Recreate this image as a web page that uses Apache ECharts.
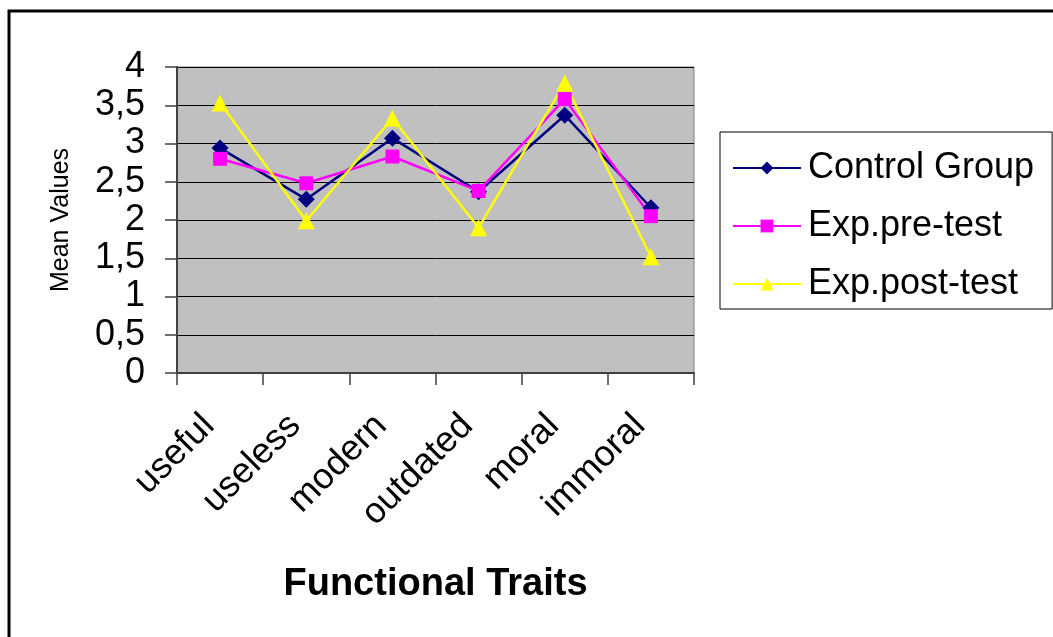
<!DOCTYPE html>
<html>
<head>
<meta charset="utf-8">
<script src="https://cdn.jsdelivr.net/npm/echarts@6/dist/echarts.min.js"></script>
<style>
html,body{margin:0;padding:0;background:#fff;}
#chart{width:1053px;height:637px;}
</style>
</head>
<body>
<div id="chart"></div>
<script>
var categories = ['useful', 'useless', 'modern', 'outdated', 'moral', 'immoral'];
var controlGroup = [2.94, 2.27, 3.07, 2.37, 3.37, 2.16];
var expPreTest = [2.80, 2.48, 2.83, 2.38, 3.58, 2.05];
var expPostTest = [3.53, 1.99, 3.33, 1.90, 3.79, 1.52];
var yTicks = ['0', '0,5', '1', '1,5', '2', '2,5', '3', '3,5', '4'];

var FONT = '"Liberation Sans", Arial, sans-serif';
var chart = echarts.init(document.getElementById('chart'), null, {renderer: 'canvas'});
chart.setOption({
  backgroundColor: '#ffffff',
  animation: false,
  graphic: [{
    type: 'rect',
    shape: {x: 9, y: 11, width: 1100, height: 700},
    style: {fill: 'none', stroke: '#000', lineWidth: 3},
    silent: true
  }],
  grid: {
    left: 177, right: 359, top: 67, bottom: 264,
    show: true, backgroundColor: '#C0C0C0', borderColor: '#808080', borderWidth: 1
  },
  legend: {
    left: 720, top: 132,
    orient: 'vertical',
    padding: [18, 18, 7, 12],
    itemGap: 22,
    itemWidth: 68,
    itemHeight: 16,
    borderColor: '#000', borderWidth: 1,
    textStyle: {fontFamily: FONT, fontSize: 36, color: '#000', padding: [0, 0, 0, 2]},
    data: ['Control Group', 'Exp.pre-test', 'Exp.post-test']
  },
  xAxis: {
    type: 'category',
    data: categories,
    boundaryGap: true,
    name: 'Functional Traits',
    nameLocation: 'middle',
    nameGap: 193,
    nameTextStyle: {fontFamily: FONT, fontSize: 38, fontWeight: 'bold', color: '#000'},
    axisLine: {lineStyle: {color: '#404040', width: 2}},
    axisTick: {show: true, alignWithLabel: false, length: 12, lineStyle: {color: '#404040', width: 1.5}},
    axisLabel: {rotate: 45, margin: 36, padding: [0, 16, 0, 0], fontFamily: FONT, fontSize: 36, color: '#000', interval: 0},
    splitLine: {show: false}
  },
  yAxis: {
    type: 'value',
    min: 0, max: 4, interval: 0.5,
    name: 'Mean Values',
    nameLocation: 'middle',
    nameGap: 103,
    nameRotate: 90,
    nameTextStyle: {fontFamily: FONT, fontSize: 25, color: '#000'},
    axisLine: {show: true, lineStyle: {color: '#404040', width: 2}},
    axisTick: {show: true, length: 12, inside: false, lineStyle: {color: '#404040', width: 1.5}},
    axisLabel: {
      margin: 32, fontFamily: FONT, fontSize: 36, color: '#000',
      formatter: function (v) { return yTicks[Math.round(v * 2)]; }
    },
    splitLine: {show: true, lineStyle: {color: '#000', width: 1}}
  },
  series: [
    {
      name: 'Control Group', type: 'line', data: controlGroup,
      symbol: 'diamond', symbolSize: 17,
      lineStyle: {color: '#000080', width: 2.5},
      itemStyle: {color: '#000080'}
    },
    {
      name: 'Exp.pre-test', type: 'line', data: expPreTest,
      symbol: 'rect', symbolSize: 14,
      lineStyle: {color: '#FF00FF', width: 2.5},
      itemStyle: {color: '#FF00FF'}
    },
    {
      name: 'Exp.post-test', type: 'line', data: expPostTest,
      symbol: 'triangle', symbolSize: 17,
      lineStyle: {color: '#FFFF00', width: 2.5},
      itemStyle: {color: '#FFFF00'}
    }
  ]
});
</script>
</body>
</html>
